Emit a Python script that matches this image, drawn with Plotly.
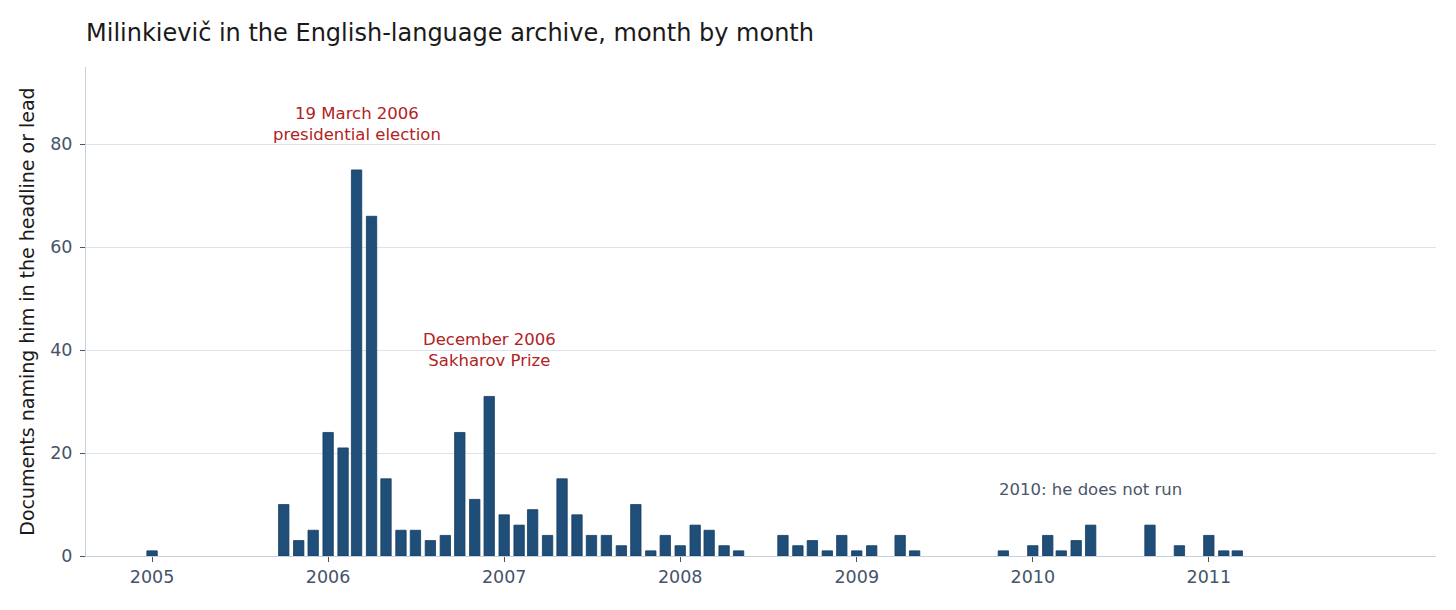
import plotly.graph_objects as go

# monthly counts (only months with at least one document)
months = [
    "2005-01", "2005-10", "2005-11", "2005-12",
    "2006-01", "2006-02", "2006-03", "2006-04", "2006-05", "2006-06",
    "2006-07", "2006-08", "2006-09", "2006-10", "2006-11", "2006-12",
    "2007-01", "2007-02", "2007-03", "2007-04", "2007-05", "2007-06",
    "2007-07", "2007-08", "2007-09", "2007-10", "2007-11", "2007-12",
    "2008-01", "2008-02", "2008-03", "2008-04", "2008-05",
    "2008-08", "2008-09", "2008-10", "2008-11", "2008-12",
    "2009-01", "2009-02", "2009-04", "2009-05", "2009-11",
    "2010-01", "2010-02", "2010-03", "2010-04", "2010-05", "2010-09", "2010-11",
    "2011-01", "2011-02", "2011-03",
]
docs = [
    1, 10, 3, 5,
    24, 21, 75, 66, 15, 5,
    5, 3, 4, 24, 11, 31,
    8, 6, 9, 4, 15, 8,
    4, 4, 2, 10, 1, 4,
    2, 6, 5, 2, 1,
    4, 2, 3, 1, 4,
    1, 2, 4, 1, 1,
    2, 4, 1, 3, 6, 6, 2,
    4, 1, 1,
]

notes = [
    ("2006-03", 84, "19 March 2006<br>presidential election", "#b22222"),
    ("2006-12", 40, "December 2006<br>Sakharov Prize", "#b22222"),
    ("2010-05", 13, "2010: he does not run", "#4a5568"),
]

FONT = "DejaVu Sans"
DAY_MS = 86400000

fig = go.Figure()
fig.add_trace(go.Bar(
    x=months, y=docs,
    width=21.5 * DAY_MS,
    marker_color="#1f4e79",
    marker_line_color="#163d62",
    marker_line_width=0.8,
    hovertemplate="%{x|%b %Y}: %{y}<extra></extra>",
))

for x, y, text, color in notes:
    fig.add_annotation(
        x=x, y=y, text=text, showarrow=False,
        font=dict(family=FONT, size=16.5, color=color),
        xanchor="center", yanchor="middle",
    )

# page body adds 8px offset, margins compensate
fig.update_layout(
    width=1456, height=610,
    margin=dict(l=78, r=28, t=59, b=62),
    paper_bgcolor="white", plot_bgcolor="white",
    showlegend=False,
    font=dict(family=FONT, size=17.5, color="#44546a"),
    title=dict(
        text="Milinkievič in the English-language archive, month by month",
        x=0, xref="paper", xanchor="left",
        y=1 - 25 / 610, yref="container", yanchor="middle",
        font=dict(family=FONT, size=24, color="#1a1a1a"),
    ),
)
fig.update_xaxes(
    type="date",
    range=["2004-08-17", "2012-04-16"],
    tickvals=["2005-01-01", "2006-01-01", "2007-01-01", "2008-01-01",
              "2009-01-01", "2010-01-01", "2011-01-01"],
    tickformat="%Y",
    showgrid=False,
    showline=True, linecolor="#c8d0dc", linewidth=1,
    ticks="outside", ticklen=5, tickcolor="#44546a",
    tickfont=dict(size=17.5, color="#44546a"),
)
fig.update_yaxes(
    range=[0, 95],
    tickvals=[0, 20, 40, 60, 80],
    showgrid=True, gridcolor="#dde3ee", gridwidth=1,
    zeroline=False,
    showline=True, linecolor="#c8d0dc", linewidth=1,
    ticks="outside", ticklen=5, tickcolor="#44546a",
    ticklabelstandoff=4,
    tickfont=dict(size=17.5, color="#44546a"),
    title=dict(text="Documents naming him in the headline or lead",
               font=dict(family=FONT, size=19, color="#1a1a1a"), standoff=10),
)

fig.write_html("out.html")
